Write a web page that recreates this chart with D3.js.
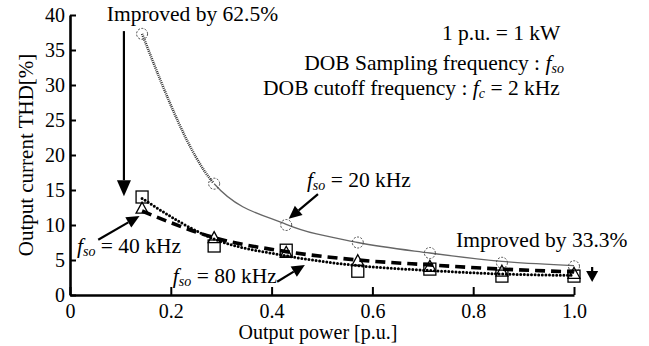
<!DOCTYPE html>
<html>
<head>
<meta charset="utf-8">
<script src="https://cdn.jsdelivr.net/npm/d3@7"></script>
<style>
body{margin:0;background:#fff;}
svg{display:block;}
</style>
</head>
<body>
<div id="chart"></div>
<script>
// output power [p.u.] of the measured points
var power = [0.143, 0.286, 0.429, 0.571, 0.714, 0.857, 1.0];
// measured THD [%]
var thd20 = [37.3, 15.9, 10.0, 7.5, 6.0, 4.6, 4.1];   // fso = 20 kHz (circles)
var thd40 = [12.4, 8.2, 6.1, 4.9, 4.1, 3.4, 3.1];     // fso = 40 kHz (triangles)
var thd80 = [14.0, 7.0, 6.4, 3.4, 3.7, 2.7, 2.7];     // fso = 80 kHz (squares)
// approximation curves
var fit20 = [37.3, 15.9, 10.1, 7.5, 6.0, 4.8, 4.2];
var fit40 = [12.0, 8.2, 6.2, 5.0, 4.3, 3.7, 3.3];
var fit80 = [13.8, 8.0, 5.6, 4.2, 3.5, 3.0, 2.8];

var xTicks = [0, 0.2, 0.4, 0.6, 0.8, 1.0];
var xTickLabels = ['0', '0.2', '0.4', '0.6', '0.8', '1.0'];
var yTicks = [0, 5, 10, 15, 20, 25, 30, 35, 40];

var SERIF = '"Liberation Serif","Times New Roman",serif';
var W = 649, H = 346;
var svg = d3.select('#chart').append('svg').attr('width', W).attr('height', H)
    .attr('font-family', SERIF);

var x = d3.scaleLinear().domain([0, 1]).range([70, 574]);
var y = d3.scaleLinear().domain([0, 40]).range([295, 15]);

function txt(xp, yp, size){
    return svg.append('text').attr('x', xp).attr('y', yp).attr('font-size', size)
        .attr('font-family', SERIF).attr('fill', '#000');
}

// axes
var yAxis = d3.axisLeft(y).tickValues(yTicks).tickSize(-6).tickSizeOuter(0).tickPadding(5);
var xAxis = d3.axisBottom(x).tickValues(xTicks).tickSize(-8).tickSizeOuter(0).tickPadding(9)
    .tickFormat(function(d, i){ return xTickLabels[i]; });

var gy = svg.append('g').attr('transform', 'translate(' + x(0) + ',0)').call(yAxis);
var gx = svg.append('g').attr('transform', 'translate(0,' + y(0) + ')').call(xAxis);
[gx, gy].forEach(function(g){
    g.attr('font-family', SERIF);
    g.select('.domain').attr('stroke', '#000').attr('stroke-width', 2.6);
    g.selectAll('.tick line').attr('stroke', '#000').attr('stroke-width', 2);
    g.selectAll('.tick text').attr('font-size', '20px').attr('font-family', SERIF).attr('fill', '#000');
});

txt(318, 339, '20px').attr('text-anchor', 'middle').text('Output power [p.u.]');
svg.append('text').attr('transform', 'translate(33,155) rotate(-90)').attr('text-anchor', 'middle')
    .attr('font-family', SERIF).attr('font-size', '21px').attr('fill', '#000').text('Output current THD[%]');

// curves
var line = d3.line().x(function(d){ return x(d[0]); }).y(function(d){ return y(d[1]); }).curve(d3.curveMonotoneX);
var pts20 = power.map(function(p, i){ return [p, fit20[i]]; });
var pts40 = power.map(function(p, i){ return [p, fit40[i]]; });
var pts80 = power.map(function(p, i){ return [p, fit80[i]]; });

// 20 kHz: hatched between the first two points, thin solid afterwards
var node20 = svg.append('path').attr('d', line(pts20)).attr('fill', 'none').attr('stroke', 'none').node();
var total20 = node20.getTotalLength();
var lo = 0, hi = total20;
for (var k = 0; k < 40; k++) {
    var mid = (lo + hi) / 2;
    if (node20.getPointAtLength(mid).x < x(power[1])) lo = mid; else hi = mid;
}
var split = lo;
var hatch = d3.range(Math.floor(split / 2)).map(function(){ return '1,1'; }).join(',');
svg.append('path').attr('d', line(pts20)).attr('fill', 'none')
    .attr('stroke', '#333').attr('stroke-width', 2.6)
    .attr('stroke-dasharray', hatch + ',0,' + (total20 + 10));
svg.append('path').attr('d', line(pts20)).attr('fill', 'none')
    .attr('stroke', '#666').attr('stroke-width', 1.3)
    .attr('stroke-dasharray', '0,' + split + ',' + total20);

svg.append('path').attr('d', line(pts40)).attr('fill', 'none')
    .attr('stroke', '#000').attr('stroke-width', 3.6).attr('stroke-dasharray', '10,6');
svg.append('path').attr('d', line(pts80)).attr('fill', 'none')
    .attr('stroke', '#000').attr('stroke-width', 3).attr('stroke-linecap', 'round').attr('stroke-dasharray', '0,3.6');

// markers
svg.selectAll('circle.m20').data(thd20).join('circle').attr('class', 'm20')
    .attr('cx', function(d, i){ return x(power[i]); }).attr('cy', function(d){ return y(d); })
    .attr('r', 5.5).attr('fill', 'none').attr('stroke', '#444').attr('stroke-width', 1)
    .attr('stroke-dasharray', '2,1.5');
svg.selectAll('path.m40').data(thd40).join('path').attr('class', 'm40')
    .attr('transform', function(d, i){ return 'translate(' + x(power[i]) + ',' + y(d) + ')'; })
    .attr('d', 'M0,-6L6,5L-6,5Z').attr('fill', 'none').attr('stroke', '#000').attr('stroke-width', 1.3);
svg.selectAll('rect.m80').data(thd80).join('rect').attr('class', 'm80')
    .attr('x', function(d, i){ return x(power[i]) - 6; }).attr('y', function(d){ return y(d) - 6; })
    .attr('width', 12).attr('height', 12).attr('fill', 'none').attr('stroke', '#000').attr('stroke-width', 1.3);

// arrows
function arrow(x1, y1, x2, y2, len, wid){
    var X1 = x(x1), Y1 = y(y1), X2 = x(x2), Y2 = y(y2);
    var a = Math.atan2(Y2 - Y1, X2 - X1);
    var bx = X2 - len * Math.cos(a), by = Y2 - len * Math.sin(a);
    var nx = -Math.sin(a) * wid / 2, ny = Math.cos(a) * wid / 2;
    svg.append('line').attr('x1', X1).attr('y1', Y1).attr('x2', bx).attr('y2', by)
        .attr('stroke', '#000').attr('stroke-width', 2.2);
    svg.append('path').attr('d', 'M' + X2 + ',' + Y2 + 'L' + (bx + nx) + ',' + (by + ny) + 'L' + (bx - nx) + ',' + (by - ny) + 'Z')
        .attr('fill', '#000');
}
arrow(0.107, 37.7, 0.107, 14.1, 16, 14);
arrow(1.036, 4.0, 1.036, 1.85, 11, 12);
arrow(0.492, 14.4, 0.434, 10.9, 13, 12);
arrow(0.056, 7.9, 0.138, 11.3, 13, 12);
arrow(0.411, 1.9, 0.466, 4.3, 13, 12);

// annotations
txt(x(0.073), y(39.1), '21.5px').text('Improved by 62.5%');
txt(x(0.766), y(6.9), '21.5px').text('Improved by 33.3%');

txt(x(0.973), y(36.4), '21.5px').attr('text-anchor', 'end').text('1 p.u. = 1 kW');
var info2 = txt(x(0.98), y(32.1), '21.5px').attr('text-anchor', 'end');
info2.append('tspan').text('DOB Sampling frequency : ');
info2.append('tspan').attr('font-style', 'italic').text('f');
info2.append('tspan').attr('font-style', 'italic').attr('font-size', '14px').attr('dy', 3).text('so');
var info3 = txt(x(0.972), y(28.6), '21.5px').attr('text-anchor', 'end');
info3.append('tspan').text('DOB cutoff frequency : ');
info3.append('tspan').attr('font-style', 'italic').text('f');
info3.append('tspan').attr('font-style', 'italic').attr('font-size', '14px').attr('dy', 3).text('c');
info3.append('tspan').attr('dy', -3).text(' = 2 kHz');

function fsoLabel(xv, yv, val){
    var t = txt(x(xv), y(yv), '21.5px');
    t.append('tspan').attr('font-style', 'italic').text('f');
    t.append('tspan').attr('font-style', 'italic').attr('font-size', '14px').attr('dy', 3).text('so');
    t.append('tspan').attr('dy', -3).text(' = ' + val);
}
fsoLabel(0.470, 15.4, '20 kHz');
fsoLabel(0.014, 6.0, '40 kHz');
fsoLabel(0.204, 1.7, '80 kHz');
</script>
</body>
</html>
